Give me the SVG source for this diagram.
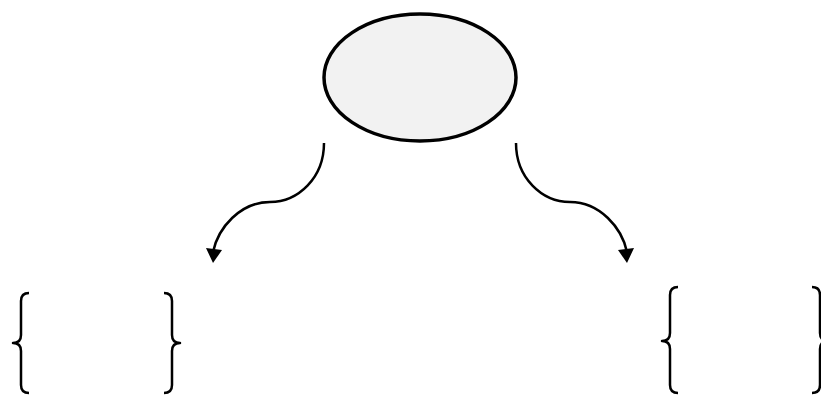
<svg xmlns="http://www.w3.org/2000/svg" width="821" height="399" viewBox="0 0 821 399">
<style>
.ln{fill:none;stroke:#000;stroke-width:2.5;stroke-linecap:butt}
.br{fill:none;stroke:#000;stroke-width:2.5;stroke-linejoin:round}
</style>
<defs>
<marker id="ah" markerWidth="10" markerHeight="10" refX="7" refY="5" orient="auto" markerUnits="userSpaceOnUse" viewBox="0 0 10 10">
<path d="M0,0 L10,5 L0,10 z" fill="#000"/>
</marker>
</defs>
<rect width="821" height="399" fill="#fff"/>
<g id="top-node">
<ellipse cx="420" cy="77.5" rx="96" ry="63.5" fill="#f2f2f2" stroke="#000" stroke-width="3.5"/>
</g>
<g id="connectors">
<path class="ln" d="M324,143 C324,178 298,202 270,202 C240,202 218,228 213,252"/>
<path d="M206,248 L222,250 L213,263 z" fill="#000"/>
<path class="ln" d="M516,143 C516,178 542,202 570,202 C600,202 622,228 627,252"/>
<path d="M634,248 L618,250 L627,263 z" fill="#000"/>
</g>
<g id="left-brace-pair">
<path class="br" d="M29,293 Q21,293 21,301 L21,335 Q21,343 13,343 Q21,343 21,351 L21,385 Q21,393 29,393"/>
<path class="br" d="M164,293 Q172,293 172,301 L172,335 Q172,343 180,343 Q172,343 172,351 L172,385 Q172,393 164,393"/>
</g>
<g id="right-brace-pair">
<path class="br" d="M678,287 Q670,287 670,295 L670,333 Q670,341 662,341 Q670,341 670,349 L670,385 Q670,393 678,393"/>
<path class="br" d="M812,287 Q820,287 820,295 L820,333 Q820,341 828,341 Q820,341 820,349 L820,385 Q820,393 812,393"/>
</g>
</svg>
